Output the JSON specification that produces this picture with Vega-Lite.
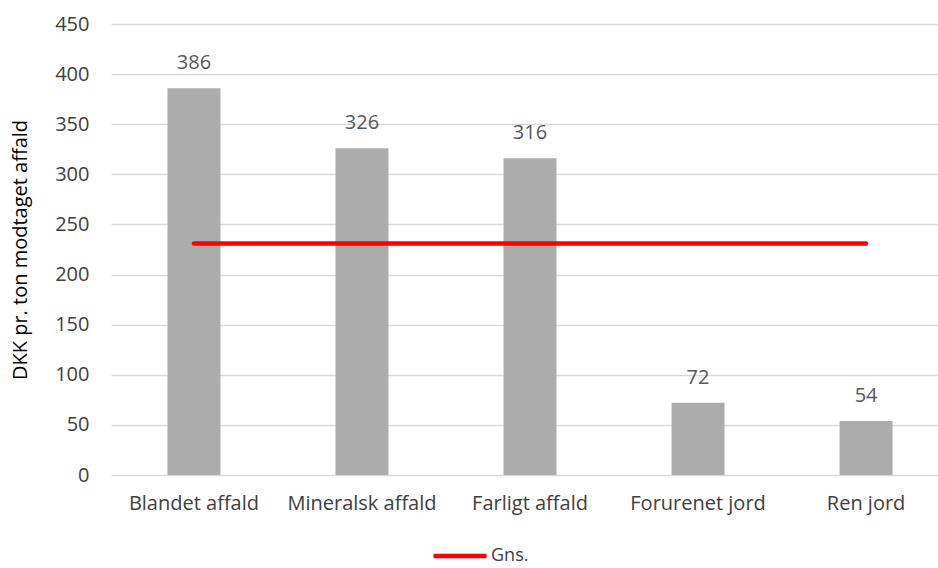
{
  "$schema": "https://vega.github.io/schema/vega-lite/v6.json",
  "width": 827,
  "height": 451,
  "autosize": {"type": "none"},
  "padding": {"left": 111, "top": 24, "right": 0, "bottom": 93},
  "background": "white",
  "config": {
    "font": "Open Sans",
    "view": {"stroke": null}
  },
  "data": {
    "values": [
      {"kategori": "Blandet affald", "vaerdi": 386, "gns": 231},
      {"kategori": "Mineralsk affald", "vaerdi": 326, "gns": 231},
      {"kategori": "Farligt affald", "vaerdi": 316, "gns": 231},
      {"kategori": "Forurenet jord", "vaerdi": 72, "gns": 231},
      {"kategori": "Ren jord", "vaerdi": 54, "gns": 231}
    ]
  },
  "encoding": {
    "x": {
      "field": "kategori",
      "type": "nominal",
      "sort": null,
      "scale": {"paddingInner": 0.685, "paddingOuter": 0.336, "range": [0, 838]},
      "axis": {
        "title": null,
        "labelAngle": 0,
        "labelFontSize": 20,
        "labelColor": "#404040",
        "labelPadding": 18,
        "domain": false,
        "ticks": false
      }
    }
  },
  "layer": [
    {
      "mark": {"type": "bar", "color": "#ADACAD"},
      "encoding": {
        "y": {
          "field": "vaerdi",
          "type": "quantitative",
          "scale": {"domain": [0, 450]},
          "axis": {
            "title": "DKK pr. ton modtaget affald",
            "titleFontSize": 20,
            "titleFontWeight": "normal",
            "titleColor": "#000000",
            "titlePadding": 24,
            "values": [0, 50, 100, 150, 200, 250, 300, 350, 400, 450],
            "labelFontSize": 20,
            "labelColor": "#404040",
            "labelPadding": 22,
            "domain": false,
            "ticks": false,
            "gridColor": "#D9D9D9",
            "gridWidth": 1.5
          }
        }
      }
    },
    {
      "mark": {"type": "text", "baseline": "bottom", "dy": -15, "fontSize": 20, "color": "#595959"},
      "encoding": {
        "y": {"field": "vaerdi", "type": "quantitative"},
        "text": {"field": "vaerdi", "type": "quantitative"}
      }
    },
    {
      "mark": {"type": "line", "strokeWidth": 4.5, "strokeCap": "round"},
      "encoding": {
        "y": {"field": "gns", "type": "quantitative"},
        "color": {
          "datum": "Gns.",
          "scale": {"range": ["#FF0000"]},
          "legend": {
            "title": null,
            "orient": "none",
            "legendX": 320,
            "legendY": 503,
            "symbolType": "stroke",
            "symbolStrokeWidth": 4.5,
            "symbolSize": 2809,
            "labelFontSize": 18,
            "labelColor": "#404040",
            "labelOffset": 2
          }
        }
      }
    }
  ]
}
